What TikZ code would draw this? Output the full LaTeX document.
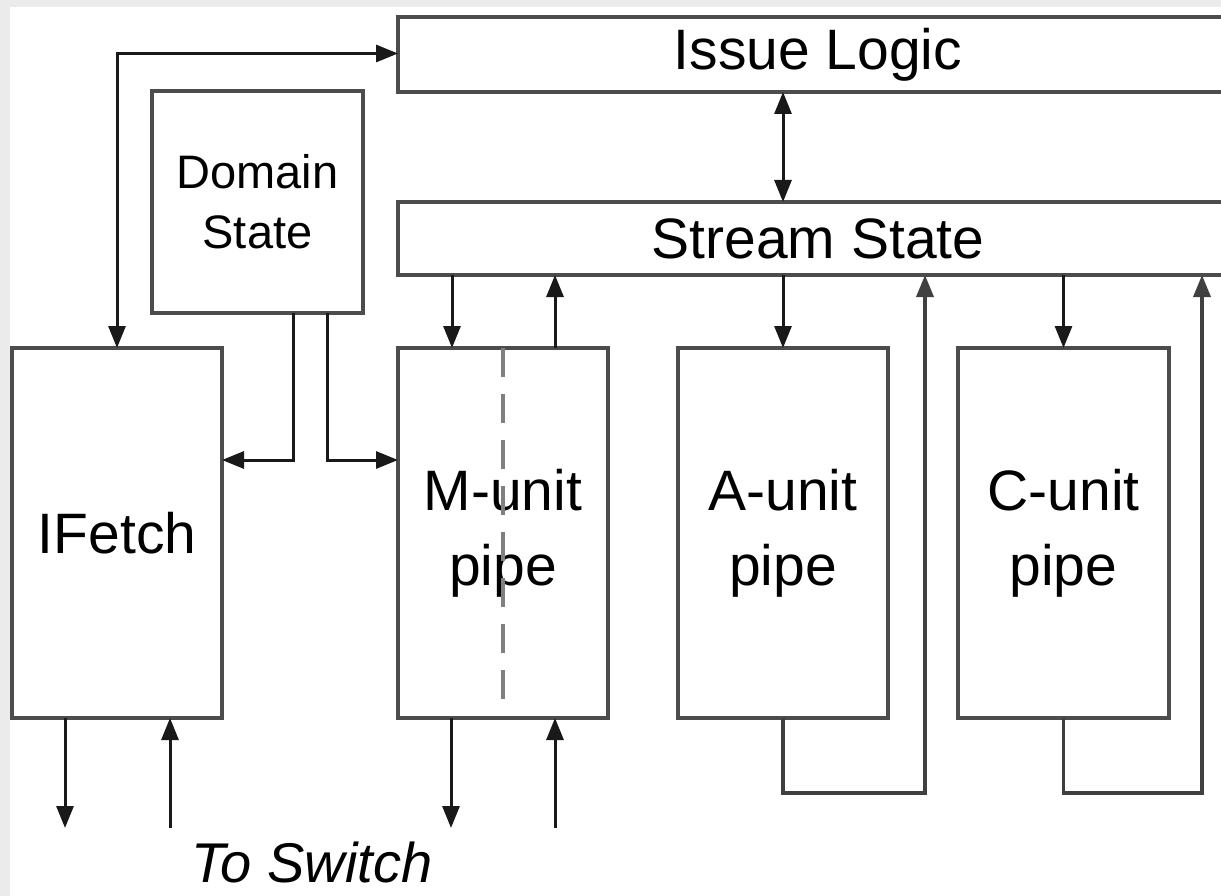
\documentclass[tikz,border=0pt]{standalone}
\usepackage{fontspec}
\setmainfont{Liberation Sans}
\usetikzlibrary{arrows.meta}
\begin{document}
\begin{tikzpicture}[x=1pt,y=-1pt,
  >={Triangle[length=22pt,width=17pt]},
  blk/.style={draw=black!70, line width=4.5pt, fill=white, inner sep=0pt,
    outer sep=0pt, align=center, anchor=north west,
    font=\fontsize{57}{75}\selectfont},
  small/.style={font=\fontsize{47}{60}\selectfont},
  wire/.style={line width=3pt, black!90, ->},
  biwire/.style={line width=3pt, black!90, <->},
  loopwire/.style={line width=3.5pt, black!75, ->}
]
% page background and frame
\fill[black!8] (0,0) rectangle (1221,896);
\fill[white] (10,7) rectangle (1221,896);
\useasboundingbox (0,0) rectangle (1221,896);
\clip (0,0) rectangle (1221,896);

% blocks
\node[blk, minimum width=840pt, minimum height=75pt] (issue) at (398,17) {Issue Logic};
\node[blk, minimum width=840pt, minimum height=73pt] (stream) at (398,202) {Stream State};
\node[blk, small, minimum width=211pt, minimum height=222pt] (domain) at (152,91) {Domain\\State};
\node[blk, minimum width=210pt, minimum height=370pt] (ifetch) at (12,348) {IFetch};
\node[blk, minimum width=210pt, minimum height=370pt] (munit) at (398,348) {M-unit\\pipe};
\node[blk, minimum width=210pt, minimum height=370pt] (aunit) at (678,348) {A-unit\\pipe};
\node[blk, minimum width=211pt, minimum height=370pt] (cunit) at (958,348) {C-unit\\pipe};

% split of the M-unit pipe
\draw[black!50, line width=4pt, dash pattern=on 29pt off 17pt]
  (munit.north) -- ([yshift=16pt]munit.south);

% issue logic <-> stream state, issue logic <-> ifetch
\draw[biwire] (issue.south -| aunit.north) -- (stream.north -| aunit.north);
\draw[biwire] ([yshift=1pt]issue.west) -| (ifetch.north);

% domain state outputs
\draw[wire] ([xshift=141pt]domain.south west) |- ([yshift=73pt]ifetch.east);
\draw[wire] ([xshift=175pt]domain.south west) |- ([yshift=73pt]munit.west);

% stream state <-> pipes
\draw[wire] ([xshift=54pt]munit.north west |- stream.south) -- ([xshift=54pt]munit.north west);
\draw[wire] ([xshift=-53pt]munit.north east) -- ([xshift=-53pt]munit.north east |- stream.south);
\draw[wire] (stream.south -| aunit.north) -- (aunit.north);
\draw[wire] (stream.south -| cunit.north) -- (cunit.north);

% writeback loops
\draw[loopwire] (aunit.south) -- ++(0,75) -| ([xshift=37pt]aunit.north east |- stream.south);
\draw[loopwire] (cunit.south) -- ++(0,75) -| ([xshift=33pt]cunit.north east |- stream.south);

% switch ports
\coordinate (ifo) at (65,828);
\coordinate (ifi) at (170,828);
\coordinate (mo) at (451,828);
\coordinate (mi) at (555,828);
\draw[wire] (ifetch.south -| ifo) -- (ifo);
\draw[wire] (ifi) -- (ifetch.south -| ifi);
\draw[wire] (munit.south -| mo) -- (mo);
\draw[wire] (mi) -- (munit.south -| mi);

\node[font=\itshape\fontsize{56}{60}\selectfont] (sw) at (312,862) {To Switch};
\end{tikzpicture}
\end{document}
